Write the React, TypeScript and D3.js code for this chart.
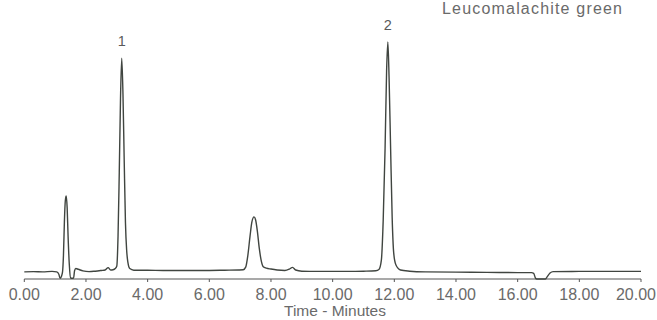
import { useEffect, useRef } from "react"
import * as d3 from "d3"

// retention time (min) and detector signal (arbitrary units, 100 = tallest peak)
const times = [
  0.0, 0.3, 0.6, 0.9, 1.05, 1.12, 1.16, 1.2, 1.24, 1.27, 1.3, 1.33, 1.36, 1.39, 1.42, 1.46, 1.5, 1.55,
  1.6, 1.63, 1.67, 1.75, 1.9, 2.1, 2.3, 2.5, 2.62, 2.72, 2.8, 2.88, 2.95,
  3.0, 3.04, 3.08, 3.12, 3.16, 3.2, 3.24, 3.28, 3.32, 3.36, 3.42, 3.55,
  4.0, 4.5, 5.0, 5.5, 6.0, 6.5, 6.95,
  7.1, 7.18, 7.25, 7.32, 7.38, 7.45, 7.5, 7.56, 7.62, 7.68, 7.75, 7.85, 8.0, 8.2, 8.45, 8.6, 8.7, 8.8, 9.0,
  9.5, 10.0, 10.5, 11.0, 11.4,
  11.5, 11.58, 11.64, 11.7, 11.75, 11.79, 11.83, 11.88, 11.93, 11.98, 12.05, 12.2, 12.5,
  13.0, 14.0, 15.0, 16.0, 16.45, 16.52, 16.58, 16.62, 16.9, 16.96, 17.05, 17.15,
  18.0, 19.0, 20.0,
]
const signal = [
  3.0, 3.1, 3.0, 3.2, 3.0, 2.0, 0.3, 1.0, 3.0, 10, 24, 33, 35, 30, 18, 6, 0.5, 0.3,
  0.5, 3.5, 4.4, 4.1, 3.4, 3.1, 3.3, 3.6, 3.8, 4.8, 3.8, 3.9, 4.4,
  5.5, 18, 45, 76, 93.2, 78, 50, 24, 12, 7, 4.4, 3.7,
  3.7, 3.6, 3.6, 3.6, 3.6, 3.7, 3.8,
  3.9, 5, 10, 18, 24, 26.2, 25, 20, 13, 8, 5.2, 4.6, 4.2, 3.8, 3.6, 4.2, 4.9, 3.8, 3.3,
  3.2, 3.2, 3.2, 3.3, 3.5,
  4.0, 8, 25, 55, 88, 100, 85, 55, 26, 11, 6, 3.8, 3.3,
  3.0, 2.9, 2.8, 2.7, 2.7, 2.4, 0.3, 0, 0, 1.0, 2.5, 3.1,
  3.2, 3.2, 3.2,
]

const xTicks = [0, 2, 4, 6, 8, 10, 12, 14, 16, 18, 20]

// numbered peaks
const peakLabels = ["1", "2"]
const peakTimes = [3.16, 11.79]
const peakHeights = [93.2, 100]

const title = "Leucomalachite green"
const xLabel = "Time - Minutes"

const W = 657
const H = 320

const App = () => {
  const svgRef = useRef<SVGSVGElement>(null)

  useEffect(() => {
    const svg = d3.select(svgRef.current)
    svg.selectAll("*").remove()

    const x = d3.scaleLinear().domain([0, 20]).range([24.3, 641])
    const y = d3.scaleLinear().domain([0, 100]).range([279, 42])

    const pts: [number, number][] = times.map((t, i) => [t, signal[i]])

    // x axis
    const axis = svg.append("g").attr("transform", `translate(0,${y(0)})`)
    axis
      .append("line")
      .attr("x1", x(0))
      .attr("x2", x(20))
      .attr("stroke", "#555")
      .attr("stroke-width", 1.2)
    axis
      .selectAll(".tick")
      .data(xTicks)
      .enter()
      .append("line")
      .attr("x1", (d) => x(d))
      .attr("x2", (d) => x(d))
      .attr("y1", 0)
      .attr("y2", 3)
      .attr("stroke", "#555")
      .attr("stroke-width", 1)
    axis
      .selectAll(".lbl")
      .data(xTicks)
      .enter()
      .append("text")
      // last label is pushed in against the right edge
      .attr("x", (d) => (d === 20 ? W - 1 : x(d)))
      .attr("y", 21)
      .attr("text-anchor", (d) => (d === 20 ? "end" : "middle"))
      .style("font-family", "'Liberation Sans', Arial, sans-serif")
      .style("font-size", "16px")
      .style("fill", "#6a6a6a")
      .text((d) => d.toFixed(2))

    svg
      .append("text")
      .attr("x", 335)
      .attr("y", 316)
      .attr("text-anchor", "middle")
      .style("font-family", "'Liberation Sans', Arial, sans-serif")
      .style("font-size", "15.5px")
      .style("fill", "#6a6a6a")
      .text(xLabel)

    // trace
    const line = d3
      .line<[number, number]>()
      .x((d) => x(d[0]))
      .y((d) => y(d[1]))
      .curve(d3.curveMonotoneX)

    svg
      .append("path")
      .datum(pts)
      .attr("d", line)
      .attr("fill", "none")
      .attr("stroke", "#404540")
      .attr("stroke-width", 1.4)
      .attr("stroke-linejoin", "round")

    // peak numbers
    svg
      .selectAll(".peak")
      .data(peakLabels)
      .enter()
      .append("text")
      .attr("x", (d, i) => x(peakTimes[i]))
      .attr("y", (d, i) => y(peakHeights[i]) - 12)
      .attr("text-anchor", "middle")
      .style("font-family", "'Liberation Sans', Arial, sans-serif")
      .style("font-size", "14.5px")
      .style("fill", "#5a5a5a")
      .text((d) => d)

    svg
      .append("text")
      .attr("x", 442)
      .attr("y", 13.5)
      .attr("textLength", 180)
      .style("font-family", "'Liberation Sans', Arial, sans-serif")
      .style("font-size", "16px")
      .style("fill", "#6a6a6a")
      .text(title)
  }, [])

  return (
    <svg
      ref={svgRef}
      width={W}
      height={H}
      style={{ position: "absolute", left: 0, top: 0, background: "#fff" }}
    ></svg>
  )
}

export default App
